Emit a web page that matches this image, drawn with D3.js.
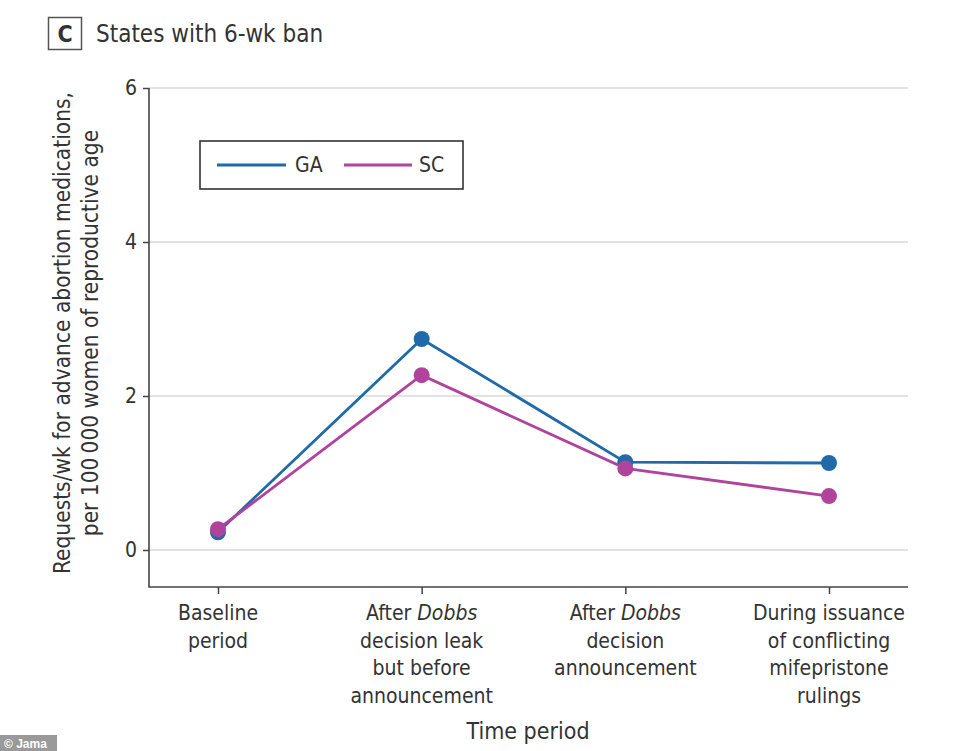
<!DOCTYPE html>
<html>
<head>
<meta charset="utf-8">
<script src="https://cdn.jsdelivr.net/npm/d3@7"></script>
<style>
  html, body { margin: 0; padding: 0; background: #fff; }
  svg text { font-family: "Liberation Sans Narrow", "DejaVu Sans Condensed", "Roboto", sans-serif; fill: #333; }
</style>
</head>
<body>
<svg id="chart" width="962" height="751"></svg>
<script>
const categories = [
  ["Baseline", "period"],
  ["After |Dobbs|", "decision leak", "but before", "announcement"],
  ["After |Dobbs|", "decision", "announcement"],
  ["During issuance", "of conflicting", "mifepristone", "rulings"]
];
const seriesNames = ["GA", "SC"];
const gaValues = [0.23, 2.74, 1.14, 1.13];
const scValues = [0.27, 2.27, 1.06, 0.70];
const yTicks = [0, 2, 4, 6];
const colors = ["#1f6aa8", "#b0449c"];

const svg = d3.select("#chart");
const plot = { left: 149, right: 908, top: 88, bottom: 587 };

const x = d3.scalePoint().domain(d3.range(categories.length)).range([218, 829]);
const y = d3.scaleLinear().domain([0, 6]).range([550, 88]);

// gridlines
svg.append("g").selectAll("line").data(yTicks).join("line")
  .attr("x1", plot.left).attr("x2", plot.right)
  .attr("y1", d => y(d)).attr("y2", d => y(d))
  .attr("stroke", "#e2e2e2").attr("stroke-width", 2);

// y axis
const yAxis = svg.append("g").attr("transform", `translate(${plot.left},0)`)
  .call(d3.axisLeft(y).tickValues(yTicks).tickSize(6).tickPadding(6).tickFormat(d3.format("d")));
yAxis.select(".domain").remove();
yAxis.selectAll(".tick line").attr("stroke", "#444").attr("stroke-width", 1.5);
yAxis.selectAll(".tick text").attr("font-size", 21).attr("fill", "#333")
  .style("font-family", "'Liberation Sans Narrow','DejaVu Sans Condensed',sans-serif");

// x axis
const xAxis = svg.append("g").attr("transform", `translate(0,${plot.bottom})`)
  .call(d3.axisBottom(x).tickSize(7).tickFormat(""));
xAxis.select(".domain").remove();
xAxis.selectAll(".tick line").attr("stroke", "#444").attr("stroke-width", 1.5);

// frame (left + bottom axis lines)
svg.append("path")
  .attr("d", `M${plot.left},${plot.top}V${plot.bottom}H${plot.right}`)
  .attr("fill", "none").attr("stroke", "#444").attr("stroke-width", 1.6);

// x tick labels
categories.forEach((lines, i) => {
  lines.forEach((ln, j) => {
    const t = svg.append("text")
      .attr("x", x(i)).attr("y", 620 + j * 27.7)
      .attr("text-anchor", "middle").attr("font-size", 21);
    ln.split("|").forEach((part, k) => {
      if (part === "") return;
      t.append("tspan").text(part).attr("font-style", k === 1 ? "italic" : "normal");
    });
  });
});

// x axis title
svg.append("text").attr("x", 528).attr("y", 739).attr("text-anchor", "middle")
  .attr("font-size", 23).text("Time period");

// y axis title
const yTitle = svg.append("text")
  .attr("transform", `translate(0,333) rotate(-90)`)
  .attr("text-anchor", "middle").attr("font-size", 22.5);
yTitle.append("tspan").attr("x", 0).attr("y", 70).text("Requests/wk for advance abortion medications,");
yTitle.append("tspan").attr("x", 0).attr("y", 98).text("per 100\u2009000 women of reproductive age");

// lines and points
const data = [gaValues, scValues];
const line = d3.line().x((d, i) => x(i)).y(d => y(d));
data.forEach((vals, s) => {
  svg.append("path").datum(vals).attr("d", line)
    .attr("fill", "none").attr("stroke", colors[s]).attr("stroke-width", 2.8);
});
data.forEach((vals, s) => {
  svg.append("g").selectAll("circle").data(vals).join("circle")
    .attr("cx", (d, i) => x(i)).attr("cy", d => y(d)).attr("r", 8)
    .attr("fill", colors[s]);
});

// legend
const lg = svg.append("g");
lg.append("rect").attr("x", 200).attr("y", 141).attr("width", 263).attr("height", 48)
  .attr("fill", "#fff").attr("stroke", "#333").attr("stroke-width", 1.6);
const legendItems = [{ x1: 217, x2: 286, tx: 295 }, { x1: 344, x2: 412, tx: 419 }];
seriesNames.forEach((n, i) => {
  const it = legendItems[i];
  lg.append("line").attr("x1", it.x1).attr("x2", it.x2).attr("y1", 165).attr("y2", 165)
    .attr("stroke", colors[i]).attr("stroke-width", 2.8);
  lg.append("text").attr("x", it.tx).attr("y", 172).attr("font-size", 21).text(n);
});

// panel label
svg.append("rect").attr("x", 48.5).attr("y", 17.5).attr("width", 33).attr("height", 32)
  .attr("fill", "#fff").attr("stroke", "#555").attr("stroke-width", 1.5);
svg.append("text").attr("x", 65).attr("y", 42).attr("text-anchor", "middle")
  .attr("font-size", 23).attr("font-weight", "bold").text("C");
svg.append("text").attr("x", 96).attr("y", 42).attr("font-size", 24).text("States with 6-wk ban");

// credit badge
svg.append("rect").attr("x", 0).attr("y", 735).attr("width", 57).attr("height", 16).attr("fill", "#9a9a9a");
svg.append("text").attr("x", 4).attr("y", 748).attr("font-size", 12).attr("font-weight", "bold")
  .style("fill", "#fff").style("font-family", "'Liberation Sans', Arial, sans-serif").text("\u00a9 Jama");
</script>
</body>
</html>
